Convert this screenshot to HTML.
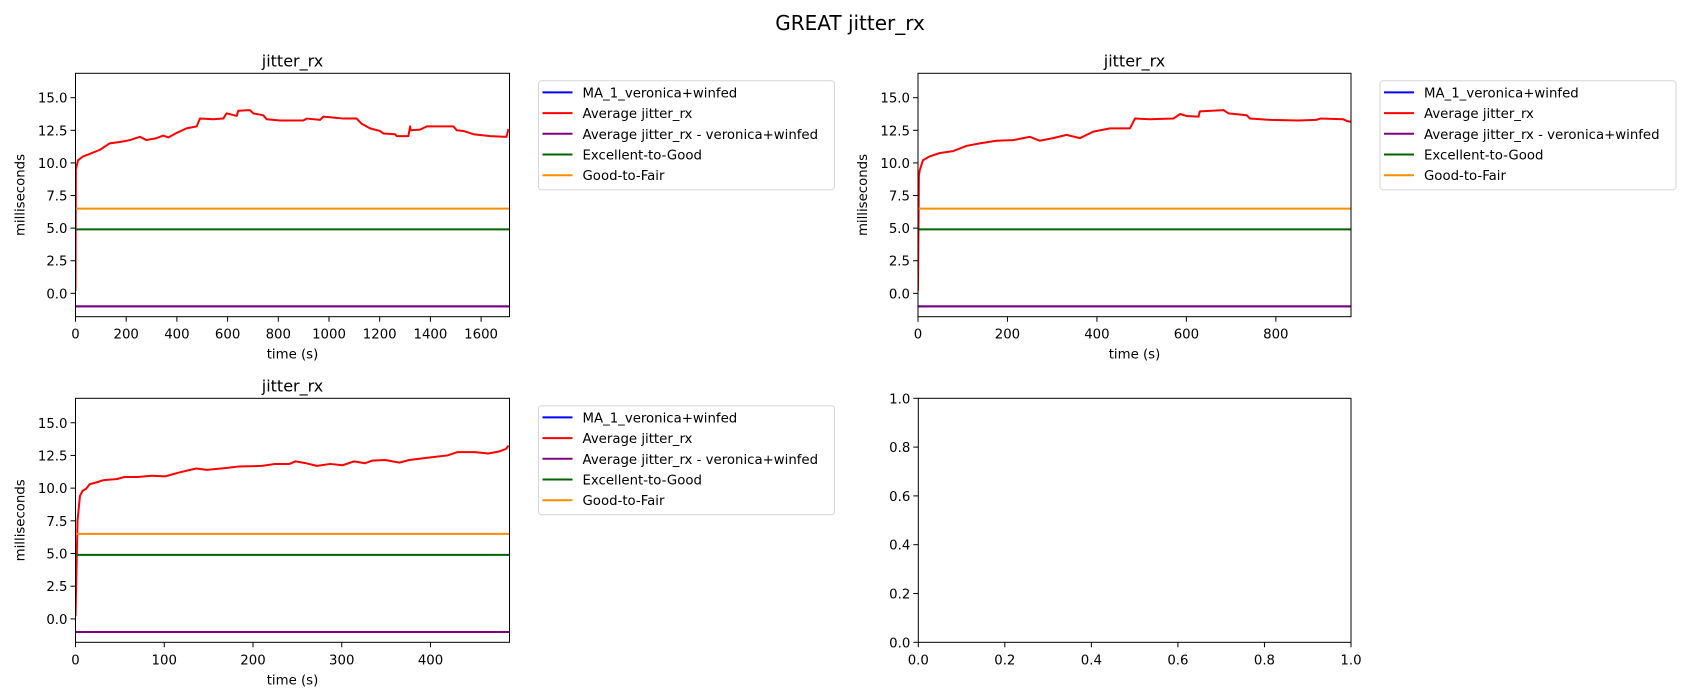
<!DOCTYPE html>
<html><head><meta charset="utf-8"><style>
body{margin:0;background:#fff;}
svg{display:block;font-family:"DejaVu Sans","Liberation Sans",sans-serif;}
</style></head><body>
<svg id="fig" width="1700" height="700" viewBox="0 0 1700 700" xmlns="http://www.w3.org/2000/svg">
<rect width="1700" height="700" fill="#fff"/>
<text x="850" y="30" text-anchor="middle" font-size="20" fill="#000">GREAT jitter_rx</text>
</svg>
<script>
const t1 = [0,1.3,10,30,57,96,135,175,215,254,280,320,346,366,399,438,478,491,543,583,596,636,642,688,701,741,754,807,899,912,965,978,1004,1057,1109,1129,1162,1201,1215,1261,1267,1313,1320,1322,1359,1386,1491,1504,1530,1570,1636,1700,1708];
const v1 = [0.2,9.5,10.2,10.5,10.7,11.0,11.5,11.6,11.75,12.0,11.75,11.9,12.1,11.95,12.3,12.65,12.8,13.4,13.35,13.4,13.8,13.6,14.0,14.05,13.8,13.65,13.35,13.25,13.25,13.4,13.3,13.55,13.5,13.4,13.4,13.0,12.65,12.45,12.25,12.2,12.05,12.05,12.8,12.5,12.55,12.8,12.8,12.5,12.45,12.2,12.05,12.0,12.6];
const t2 = [0,2,4,11,26,48,78,108,138,175,213,250,272,302,332,362,392,429,474,485,518,571,586,600,627,630,683,694,735,742,787,850,890,900,950,960,968];
const v2 = [0.2,9.0,9.45,10.2,10.5,10.75,10.9,11.3,11.5,11.7,11.75,12.0,11.7,11.9,12.15,11.9,12.4,12.65,12.65,13.4,13.35,13.4,13.75,13.6,13.55,13.95,14.05,13.8,13.65,13.4,13.3,13.25,13.3,13.4,13.35,13.2,13.15];
const t3 = [0,2.3,5,8,12,16,24,31,47,55,70,86,101,117,136,148,171,183,210,225,241,248,260,272,287,301,314,326,334,349,365,376,400,419,430,450,465,477,485,488];
const v3 = [0.2,7.5,9.4,9.8,9.95,10.3,10.45,10.6,10.7,10.85,10.85,10.95,10.9,11.2,11.5,11.4,11.55,11.65,11.7,11.85,11.85,12.05,11.9,11.7,11.85,11.75,12.05,11.9,12.1,12.15,11.95,12.15,12.35,12.5,12.75,12.75,12.65,12.8,13.0,13.25];
const thresholds = [6.5, 4.9];        // Good-to-Fair, Excellent-to-Good
const avgVeronica = -1.0;
const maLevel = -1.0;
const yTicks = [0,2.5,5,7.5,10,12.5,15];
const xTicks1 = [0,200,400,600,800,1000,1200,1400,1600];
const xTicks2 = [0,200,400,600,800];
const xTicks3 = [0,100,200,300,400];
const emptyTicks = [0,0.2,0.4,0.6,0.8,1.0];
const legendLabels = ["MA_1_veronica+winfed","Average jitter_rx","Average jitter_rx - veronica+winfed","Excellent-to-Good","Good-to-Fair"];
const legendColors = ["#0000ff","#ff0000","#800080","#006400","#ff8c00"];

const NS="http://www.w3.org/2000/svg";
const svg=document.getElementById('fig');
function mk(tag,attrs,parent){const e=document.createElementNS(NS,tag);for(const k in attrs)e.setAttribute(k,attrs[k]);(parent||svg).appendChild(e);return e;}
const FS=13.3;

function axes(name,L,T,W,H,xmin,xmax,ymin,ymax,xt,yt,fmtX,fmtY,opts){
  const g=mk('g',{});
  
  
  const sx=v=>L+(v-xmin)/(xmax-xmin)*W;
  const sy=v=>T+H-(v-ymin)/(ymax-ymin)*H;
  const clipId=name+'-clip';
  const cp=mk('clipPath',{id:clipId},g);mk('rect',{x:L,y:T,width:W,height:H},cp);
  const plot=mk('g',{'clip-path':'url(#'+clipId+')'},g);
  
  
  if(opts){
    const hl=(val,color,nm)=>{const l=mk('line',{x1:sx(xmin),x2:sx(xmax),y1:sy(val),y2:sy(val),stroke:color,'stroke-width':2},plot);
      };
    hl(maLevel,'#0000ff','ma-line');
    const pts=opts.t.map((t,i)=>sx(t).toFixed(2)+','+sy(opts.v[i]).toFixed(2)).join(' ');
    const pl=mk('polyline',{points:pts,fill:'none',stroke:'#ff0000','stroke-width':2,'stroke-linejoin':'round'},plot);
    
    
    hl(avgVeronica,'#800080','average-veronica-line');
    hl(thresholds[1],'#006400','excellent-to-good-line');
    hl(thresholds[0],'#ff8c00','good-to-fair-line');
  }
  mk('rect',{x:L,y:T,width:W,height:H,fill:'none',stroke:'#000','stroke-width':1},g);
  xt.forEach(v=>{const x=sx(v);mk('line',{x1:x,x2:x,y1:T+H,y2:T+H+5,stroke:'#000'},g);
    const tx=mk('text',{x:x,y:T+H+22,'text-anchor':'middle','font-size':FS},g);tx.textContent=fmtX(v);
    });
  yt.forEach(v=>{const y=sy(v);mk('line',{x1:L-5,x2:L,y1:y,y2:y,stroke:'#000'},g);
    const tx=mk('text',{x:L-8,y:y+5,'text-anchor':'end','font-size':FS},g);tx.textContent=fmtY(v);
    });
  if(opts){
    const ti=mk('text',{x:L+W/2,y:T-7,'text-anchor':'middle','font-size':16},g);ti.textContent='jitter_rx';
    
    if(opts.xlabel){const xl=mk('text',{x:L+W/2,y:T+H+42,'text-anchor':'middle','font-size':FS},g);xl.textContent='time (s)';
      }
    const yl=mk('text',{x:0,y:0,'text-anchor':'middle','font-size':FS,transform:'translate('+(L-51)+','+(T+H/2)+') rotate(-90)'},g);yl.textContent='milliseconds';
    
    const lx=L+W+29, ly=T+7.5;
    const lg=mk('g',{},g);
    
    mk('rect',{x:lx,y:ly,width:296,height:109,rx:3,fill:'#fff',stroke:'#d6d6d6'},lg);
    legendLabels.forEach((lab,i)=>{const yy=ly+11.6+i*20.7;
      const hl=mk('line',{x1:lx+4,x2:lx+34,y1:yy,y2:yy,stroke:legendColors[i],'stroke-width':2},lg);
      
      const tx=mk('text',{x:lx+44,y:yy+5,'font-size':FS},lg);tx.textContent=lab;
      });
  }
}
const f1=v=>v.toFixed(1), f0=v=>String(v);
axes('subplot-1',75.5,73.3,434,243.4,0,1712,-1.79,16.87,xTicks1,yTicks,f0,f1,{t:t1,v:v1,xlabel:true});
axes('subplot-2',918,73.3,433,243.4,0,968,-1.79,16.87,xTicks2,yTicks,f0,f1,{t:t2,v:v2,xlabel:true});
axes('subplot-3',75.5,398.3,434,244,0,489,-1.79,16.87,xTicks3,yTicks,f0,f1,{t:t3,v:v3,xlabel:true});
axes('subplot-4-empty',918.3,398.3,432.7,244,0,1,0,1,emptyTicks,emptyTicks,f1,f1,null);
</script>
</body></html>
